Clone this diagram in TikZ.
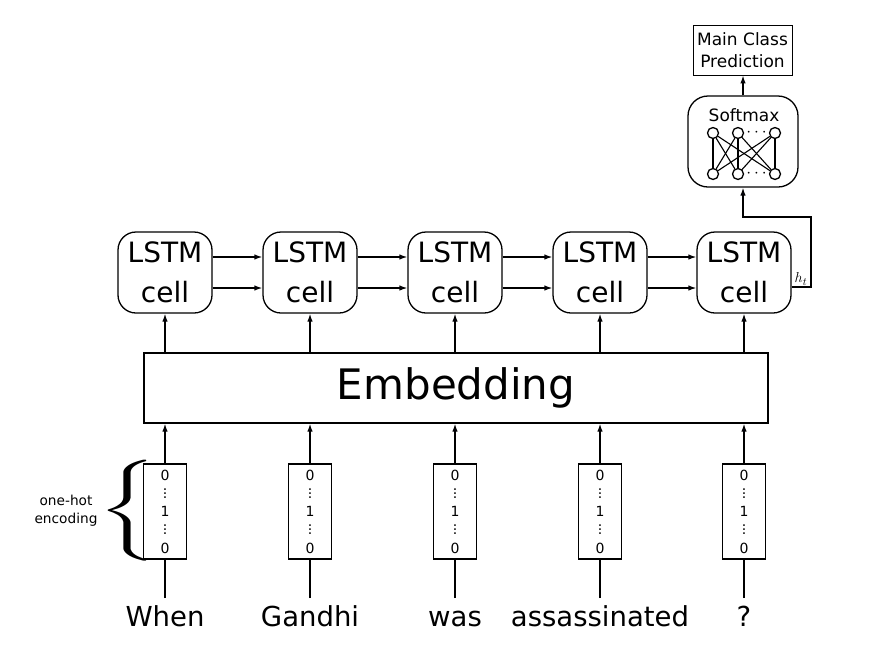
\documentclass[tikz,border=0pt]{standalone}
\usepackage{graphicx}
\usepackage{fontspec}
\setmainfont{DejaVu Sans}
\usetikzlibrary{arrows.meta}
\usetikzlibrary{positioning}

\definecolor{tipblue}{rgb}{0.05,0.05,0.25}
\tikzset{
  lstm/.style={draw,rounded corners=18pt,minimum width=94pt,minimum height=81pt,inner sep=0pt,align=center,font=\fontsize{28}{40}\selectfont},
  onehot/.style={draw,line width=1.1pt,minimum width=43pt,minimum height=95pt,inner sep=0pt,align=center,font=\fontsize{14}{18.25}\selectfont},
  arr/.style={-{Latex[length=8pt,width=5.5pt,fill=tipblue]}},
  word/.style={font=\fontsize{27.5}{30}\selectfont,anchor=base},
  neuron/.style={circle,draw,minimum size=11pt,inner sep=0pt},
}

\begin{document}
\begin{tikzpicture}[x=1pt,y=-1pt,line width=1.3pt]
\useasboundingbox (0,0) rectangle (869,654);

\node[draw,minimum width=624pt,minimum height=70pt,inner sep=0pt,font=\fontsize{42}{42}\selectfont] (emb) at (456,388) {Embedding};

\foreach \i/\x/\w in {1/165/When,2/310/Gandhi,3/455/was,4/600/assassinated,5/744/?}{
  \node[lstm] (c\i) at (\x,272.5) {LSTM\\cell};
  \node[onehot] (v\i) at (\x,511.5) {0\\\smash{\vdots}\\1\\\smash{\vdots}\\0};
  \node[word] (w\i) at (\x,626) {\w};
  \coordinate (e\i) at (\x,598);
  \draw (e\i) -- (v\i.south);
  \draw[arr] (v\i.north) -- (v\i.north |- emb.south);
  \draw[arr] (c\i.south |- emb.north) -- (c\i.south);
}
\foreach \i/\j in {1/2,2/3,3/4,4/5}{
  \draw[arr] ([yshift=15.5pt]c\i.east) -- ([yshift=15.5pt]c\j.west);
  \draw[arr] ([yshift=-15.5pt]c\i.east) -- ([yshift=-15.5pt]c\j.west);
}

% one-hot brace
\node[inner sep=0pt] (brace) at (128,511) {\resizebox*{60pt}{101pt}{$\Bigg\{$}};
\node[align=center,font=\fontsize{13.7}{18}\selectfont] (enc) at (66,511) {one-hot\\encoding};

% softmax layer
\node[draw,rounded corners=20pt,minimum width=110pt,minimum height=91pt] (soft) at (743,141.5) {};
\node[font=\fontsize{17}{17}\selectfont] (softlbl) at (744,115) {Softmax};
\foreach \j/\x in {1/713,2/738,3/775}{
  \node[neuron] (t\j) at (\x,133) {};
  \node[neuron] (b\j) at (\x,174) {};
}
\node[font=\fontsize{17}{17}\selectfont] (tdots) at (756.5,133) {$\cdots$};
\node[font=\fontsize{17}{17}\selectfont] (bdots) at (756.5,174) {$\cdots$};
\foreach \a in {1,2,3}
  \foreach \b in {1,2,3}
    \draw[line width=1.1pt] (t\a) -- (b\b);

\node[draw,line width=0.9pt,minimum width=99pt,minimum height=50pt,align=center,font=\fontsize{17}{22}\selectfont] (pred) at (742.5,50) {Main Class\\Prediction};
\draw[arr] (soft.north) -- (soft.north |- pred.south);

% last hidden state
\coordinate (hr) at (811,217);
\draw[arr] ([yshift=-14.5pt]c5.east) -| (hr) -| (soft.south);
\node[font=\fontsize{15}{15}\selectfont] (ht) at (801,279) {$h_t$};

\end{tikzpicture}
\end{document}
